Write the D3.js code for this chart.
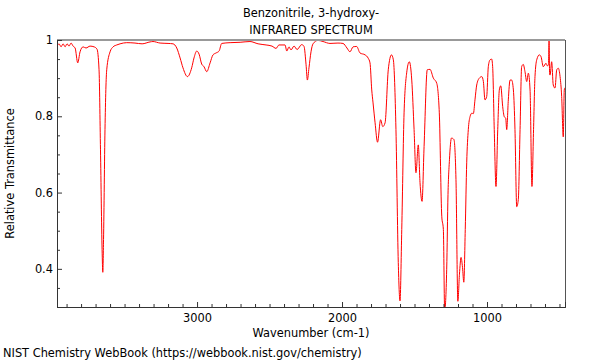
<!DOCTYPE html>
<html><head><meta charset="utf-8">
<script src="https://cdn.jsdelivr.net/npm/d3@7"></script>
<style>
body{margin:0;background:#fff;}
text{font-family:"DejaVu Sans",sans-serif;}
</style>
</head><body>
<svg id="chart" width="600" height="360"></svg>
<script>
const titleLines = ["Benzonitrile, 3-hydroxy-", "INFRARED SPECTRUM"];
const xLabel = "Wavenumber (cm-1)";
const yLabel = "Relative Transmittance";
const footer = "NIST Chemistry WebBook (https://webbook.nist.gov/chemistry)";
const xTicks = [3000, 2000, 1000];
const yTicks = [0.4, 0.6, 0.8, 1];

const wavenumber = [3966,3952,3938,3924,3910,3897,3883,3869,3855,3841,3823,3807,3786,3766,3738,3710,3690,3676,3666,3655,3650,3645,3635,3623,3600,3579,3554,3531,3485,3428,3379,3324,3304,3255,3200,3166,3140,3117,3097,3066,3037,3021,3002,2986,2968,2952,2933,2910,2890,2869,2848,2830,2772,2703,2635,2579,2524,2483,2455,2435,2393,2381,2366,2352,2331,2310,2278,2262,2248,2239,2228,2214,2200,2166,2131,2083,2028,1993,1966,1945,1924,1899,1876,1841,1819,1807,1795,1786,1772,1755,1734,1719,1703,1681,1659,1646,1628,1612,1600,1588,1572,1554,1536,1519,1503,1490,1474,1462,1448,1434,1412,1393,1370,1347,1329,1312,1301,1292,1278,1269,1259,1245,1228,1214,1201,1190,1179,1169,1160,1150,1140,1129,1117,1105,1094,1083,1071,1053,1036,1025,1014,1002,991,979,968,961,950,938,926,915,905,892,881,871,864,853,841,830,818,807,795,784,772,761,750,738,726,715,703,690,679,669,657,639,627,612,593,583,576,572,568,565,554,543,531,519,508,496,485,474,467,462];
const transmittance = [0.984,0.990,0.982,0.990,0.982,0.990,0.984,0.992,0.984,0.979,0.940,0.969,0.982,0.979,0.984,0.982,0.976,0.922,0.712,0.451,0.391,0.477,0.765,0.922,0.969,0.982,0.987,0.990,0.993,0.992,0.990,0.995,0.996,0.992,0.991,0.990,0.979,0.953,0.927,0.904,0.927,0.953,0.971,0.963,0.937,0.930,0.917,0.940,0.961,0.966,0.971,0.991,0.993,0.994,0.996,0.990,0.987,0.984,0.978,0.987,0.987,0.971,0.982,0.974,0.984,0.975,0.988,0.983,0.935,0.895,0.927,0.969,0.990,0.999,0.996,0.991,0.992,0.991,0.979,0.969,0.982,0.983,0.966,0.961,0.952,0.940,0.869,0.835,0.783,0.732,0.791,0.773,0.783,0.922,0.961,0.948,0.765,0.417,0.316,0.503,0.809,0.914,0.943,0.895,0.765,0.652,0.725,0.626,0.577,0.721,0.922,0.923,0.900,0.887,0.809,0.538,0.503,0.290,0.399,0.595,0.686,0.743,0.739,0.634,0.315,0.386,0.430,0.404,0.365,0.503,0.678,0.765,0.799,0.808,0.807,0.843,0.882,0.900,0.904,0.891,0.843,0.852,0.930,0.948,0.950,0.930,0.765,0.616,0.765,0.869,0.880,0.826,0.799,0.795,0.765,0.843,0.895,0.895,0.869,0.765,0.563,0.582,0.765,0.930,0.936,0.917,0.891,0.913,0.869,0.616,0.765,0.904,0.948,0.961,0.956,0.930,0.939,0.932,0.935,1.000,0.910,0.908,0.943,0.882,0.874,0.922,0.926,0.904,0.852,0.746,0.869,0.875];

const svg = d3.select("#chart");
const margin = {left:57, right:35, top:40, bottom:53};
const W = 600, H = 360;
const FS = 11.4;
const x = d3.scaleLinear().domain([3966, 462]).range([margin.left, W - margin.right]);
const y = d3.scaleLinear().domain([0.3, 1]).range([H - margin.bottom, margin.top]);

svg.append("defs").append("clipPath").attr("id","clip")
  .append("rect").attr("x", margin.left).attr("y", margin.top)
  .attr("width", W - margin.left - margin.right).attr("height", H - margin.top - margin.bottom);

const data = wavenumber.map((w,i)=>({w, t: transmittance[i]}));
svg.append("path").datum(data)
  .attr("clip-path","url(#clip)")
  .attr("fill","none").attr("stroke","#ff0000").attr("stroke-width",1)
  .attr("d", d3.line().curve(d3.curveMonotoneX).x(d=>x(d.w)).y(d=>y(d.t)));

// frame: top & right
svg.append("line").attr("x1", margin.left).attr("x2", W - margin.right)
  .attr("y1", margin.top).attr("y2", margin.top).attr("stroke","#999").attr("stroke-width",2);
svg.append("line").attr("x1", W - margin.right + 0.5).attr("x2", W - margin.right + 0.5)
  .attr("y1", margin.top).attr("y2", H - margin.bottom).attr("stroke","#555").attr("stroke-width",1);

// minor ticks
const xMinor = d3.range(500, 4000, 100).filter(v => !xTicks.includes(v));
const yMinor = d3.range(0.3, 1.0001, 0.05).map(v=>+v.toFixed(2)).filter(v => !yTicks.includes(v));

svg.append("g").attr("transform", `translate(0,${H - margin.bottom})`)
  .call(d3.axisBottom(x).tickValues(xMinor).tickSize(-3).tickFormat(""));
svg.append("g").attr("transform", `translate(0,${H - margin.bottom})`)
  .call(d3.axisBottom(x).tickValues(xTicks).tickSize(-5).tickPadding(7).tickFormat(d3.format("d")));
svg.append("g").attr("transform", `translate(${margin.left},0)`)
  .call(d3.axisLeft(y).tickValues(yMinor).tickSize(-3).tickFormat(""));
svg.append("g").attr("transform", `translate(${margin.left},0)`)
  .call(d3.axisLeft(y).tickValues(yTicks).tickSize(-5).tickPadding(4).tickFormat(d=> d===1 ? "1" : d3.format(".1f")(d)));
svg.selectAll(".domain").attr("stroke","#333");
svg.selectAll(".tick line").attr("stroke","#333");
svg.selectAll(".tick text").attr("font-family","DejaVu Sans").attr("font-size",FS).attr("fill","#000");

// titles
const cx = (margin.left + W - margin.right)/2;
svg.append("text").attr("x", cx).attr("y", 17).attr("text-anchor","middle").attr("font-size",FS).text(titleLines[0]);
svg.append("text").attr("x", cx).attr("y", 34).attr("text-anchor","middle").attr("font-size",FS).text(titleLines[1]);
svg.append("text").attr("x", cx).attr("y", 337).attr("text-anchor","middle").attr("font-size",FS).text(xLabel);
svg.append("text").attr("transform", `translate(14,${(margin.top + H - margin.bottom)/2}) rotate(-90)`)
  .attr("text-anchor","middle").attr("font-size",FS).text(yLabel);
svg.append("text").attr("x", 3).attr("y", 357).attr("font-size",FS).text(footer);
</script>
</body></html>
